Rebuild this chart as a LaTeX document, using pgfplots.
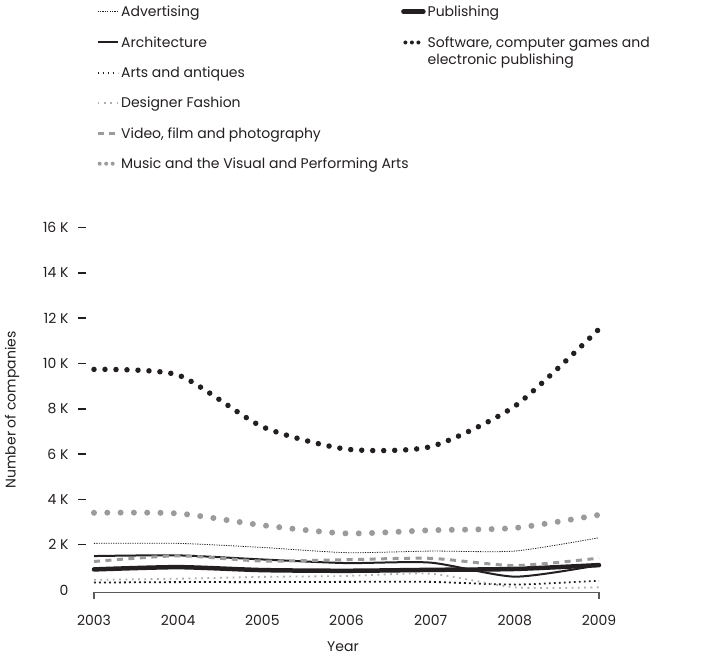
\documentclass[border=0pt]{standalone}
\usepackage{pgfplots}
\pgfplotsset{compat=1.18}
\usepackage{fontspec}
\setmainfont{Poppins}
\definecolor{blk}{HTML}{231F20}
\definecolor{gr}{HTML}{9B9B9B}
\definecolor{lgr}{HTML}{ADADAD}
\definecolor{axgr}{HTML}{5A5A5A}
\begin{document}
\begin{tikzpicture}[font=\fontsize{14bp}{17bp}\selectfont]
\begin{axis}[
 scale only axis, width=505bp, height=364.7bp,
 xmin=2003, xmax=2009, ymin=-100, ymax=16000,
 scaled y ticks=false,
 axis x line*=bottom, axis y line*=left,
 x axis line style={draw=none},
 y axis line style={draw=none},
 axis y line shift=8bp,
 xtick={2003,2004,2005,2006,2007,2008,2009},
 xticklabels={2003,2004,2005,2006,2007,2008,2009},
 xtick style={draw=none},
 xticklabel style={anchor=center, yshift=-20bp},
 ytick={2000,4000,6000,8000,10000,12000,14000,16000},
 yticklabels={2 K,4 K,6 K,8 K,10 K,12 K,14 K,16 K},
 ytick style={blk, line width=1.5bp},
 major tick length=8bp, tick align=outside,
 extra y ticks={0}, extra y tick labels={0},
 extra y tick style={tick style={draw=none}},
 yticklabel style={anchor=east, text=blk, xshift=-6bp},
 xticklabel style={text=blk},
 xlabel={Year}, ylabel={Number of companies},
 xlabel style={at={(axis description cs:0.493,-0.149)}, anchor=center, text=blk},
 ylabel style={at={(axis description cs:-0.1624,0.5)}, anchor=center, text=blk},
 legend style={draw=none, fill=none, at={(axis description cs:-0.002,1.62)}, anchor=north west,
   legend columns=2, /tikz/every even column/.append style={column sep=6bp},
   row sep=14bp, font=\fontsize{14bp}{17bp}\selectfont, text=blk},
 legend cell align=left,
 legend image code/.code={\draw[#1] (0bp,0bp) -- (20bp,0bp);},
 clip=false,
]
\addplot[blk, line width=0.8bp, dash pattern=on 1.2bp off 1.2bp, smooth, tension=0.4] coordinates {
 (2003,2060) (2004,2060) (2005,1880) (2006,1650) (2007,1720) (2008,1720) (2009,2310)};
\addlegendentry{\makebox[272bp][l]{Advertising}}
\addplot[blk, line width=4.5bp, line cap=round, smooth, tension=0.4] coordinates {
 (2003,910) (2004,1010) (2005,880) (2006,850) (2007,890) (2008,930) (2009,1100)};
\addlegendentry{Publishing}
\addplot[blk, line width=2bp, smooth, tension=0.4] coordinates {
 (2003,1500) (2004,1530) (2005,1350) (2006,1190) (2007,1210) (2008,590) (2009,1100)};
\addlegendentry{\makebox[272bp][l]{Architecture}}
\addplot[blk, line width=5.5bp, line cap=round, dash pattern=on 0bp off 11bp, smooth, tension=0.4,
 legend image code/.code={\draw[blk, line width=4bp, line cap=round, dash pattern=on 0bp off 6.5bp] (2bp,0bp) -- (17bp,0bp);}] coordinates {
 (2003,9740) (2004,9490) (2005,7210) (2006,6220) (2007,6330) (2008,8120) (2009,11520)};
\addlegendentry{\raisebox{0pt}[\height][0pt]{\begin{tabular}[t]{@{}l@{}}Software, computer games and\\[0bp]electronic publishing\end{tabular}}}
\addplot[blk, line width=1.8bp, dash pattern=on 1.8bp off 3.2bp, smooth, tension=0.4] coordinates {
 (2003,330) (2004,350) (2005,350) (2006,360) (2007,360) (2008,240) (2009,410)};
\addlegendentry{\makebox[272bp][l]{Arts and antiques}}
\addlegendimage{empty legend}\addlegendentry{}
\addplot[lgr, line width=1.8bp, dash pattern=on 1.8bp off 4.5bp, smooth, tension=0.4] coordinates {
 (2003,450) (2004,500) (2005,580) (2006,620) (2007,720) (2008,120) (2009,120)};
\addlegendentry{\makebox[272bp][l]{Designer Fashion}}
\addlegendimage{empty legend}\addlegendentry{}
\addplot[gr, line width=3bp, dash pattern=on 6bp off 5.5bp, smooth, tension=0.4] coordinates {
 (2003,1260) (2004,1510) (2005,1280) (2006,1340) (2007,1400) (2008,1080) (2009,1410)};
\addlegendentry{\makebox[272bp][l]{Video, film and photography}}
\addlegendimage{empty legend}\addlegendentry{}
\addplot[gr, line width=6bp, line cap=round, dash pattern=on 0bp off 13.3bp, smooth, tension=0.4,
 legend image code/.code={\draw[gr, line width=4bp, line cap=round, dash pattern=on 0bp off 6.5bp] (2bp,0bp) -- (17bp,0bp);}] coordinates {
 (2003,3410) (2004,3380) (2005,2860) (2006,2500) (2007,2640) (2008,2740) (2009,3320)};
\addlegendentry{\makebox[272bp][l]{Music and the Visual and Performing Arts}}
\draw[axgr, line width=1.3bp] ([yshift=-7bp]axis cs:2003,-100) -- (axis cs:2003,-100) -- (axis cs:2009,-100) -- ([yshift=-7bp]axis cs:2009,-100);
\end{axis}
\path[use as bounding box] (-94bp,-63.7bp) rectangle (613bp,592.3bp);
\end{tikzpicture}
\end{document}
